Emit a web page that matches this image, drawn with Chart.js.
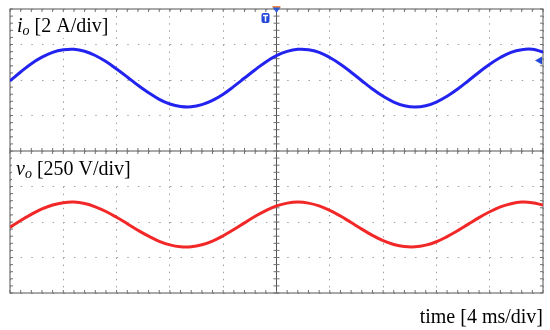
<!DOCTYPE html>
<html>
<head>
<meta charset="utf-8">
<script src="https://cdn.jsdelivr.net/npm/chart.js@4.4.0/dist/chart.umd.min.js"></script>
<style>
  html, body { margin: 0; padding: 0; background: #fff; }
</style>
</head>
<body>
<canvas id="scope" width="550" height="330"></canvas>
<script>
// sample times in ms (4 ms/div, 10 div across)
const timeMs = [0, 0.8, 1.6, 2.4, 3.2, 4.0, 4.8, 5.6, 6.4, 7.2, 8.0, 8.8, 9.6, 10.4, 11.2, 12.0, 12.8,
  13.6, 14.4, 15.2, 16.0, 16.8, 17.6, 18.4, 19.2, 20.0, 20.8, 21.6, 22.4, 23.2, 24.0, 24.8, 25.6,
  26.4, 27.2, 28.0, 28.8, 29.6, 30.4, 31.2, 32.0, 32.8, 33.6, 34.4, 35.2, 36.0, 36.8, 37.6, 38.4,
  39.2, 40.0];

// output current io [A] (2 A/div)
const currentA = [-0.05, 0.45, 0.92, 1.29, 1.56, 1.70, 1.73, 1.62, 1.38, 1.04, 0.62, 0.17, -0.30,
  -0.72, -1.09, -1.35, -1.49, -1.51, -1.39, -1.15, -0.80, -0.36, 0.11, 0.58, 1.02, 1.37, 1.61,
  1.73, 1.71, 1.56, 1.27, 0.89, 0.44, -0.04, -0.51, -0.92, -1.24, -1.45, -1.52, -1.45, -1.24,
  -0.92, -0.51, -0.04, 0.44, 0.89, 1.27, 1.56, 1.71, 1.73, 1.58];

// output voltage vo [V] (250 V/div)
const voltageV = [-38, 11, 54, 92, 120, 136, 140, 130, 107, 74, 33, -12, -58, -100, -136, -161,
  -174, -174, -160, -134, -97, -53, -6, 40, 80, 113, 133, 140, 133, 113, 82, 42, -4, -50, -94,
  -131, -158, -173, -175, -163, -139, -103, -61, -15, 31, 72, 106, 129, 140, 136, 119];

// axis ranges: top half is the current panel, bottom half the voltage panel
const timeRange = [0, 40];
const currentRange = [-12, 4];   // 2 A/div, panel spans +4..-4 A
const voltageRange = [-500, 1500]; // 250 V/div, panel spans +500..-500 V

const serif = '"Liberation Serif", "Times New Roman", serif';

function drawLabel(ctx, x, y, sym, sub, rest) {
  ctx.fillStyle = '#fff';
  ctx.font = 'italic 20px ' + serif;
  let w1 = ctx.measureText(sym).width;
  ctx.font = 'italic 14px ' + serif;
  let w2 = ctx.measureText(sub).width;
  ctx.font = '20px ' + serif;
  let w3 = ctx.measureText(' ' + rest).width;
  ctx.fillRect(x - 4, y - 19, w1 + w2 + w3 + 8, 25);
  ctx.fillStyle = '#000';
  ctx.font = 'italic 20px ' + serif;
  ctx.fillText(sym, x, y);
  ctx.font = 'italic 14px ' + serif;
  ctx.fillText(sub, x + w1, y + 3);
  ctx.font = '20px ' + serif;
  ctx.fillText(' ' + rest, x + w1 + w2, y);
}

const scopeFrame = {
  id: 'scopeFrame',
  beforeDatasetsDraw(chart) {
    const ctx = chart.ctx;
    const xs = chart.scales.x, yi = chart.scales.yi;
    const { left, right, top, bottom } = chart.chartArea;
    const xc = xs.getPixelForValue(20);
    const yc = yi.getPixelForValue(-4);
    ctx.save();
    ctx.strokeStyle = '#555';
    ctx.lineWidth = 1;
    ctx.strokeRect(left, top, right - left, bottom - top);
    ctx.beginPath();
    ctx.moveTo(xc, top); ctx.lineTo(xc, bottom);
    ctx.moveTo(left, yc); ctx.lineTo(right, yc);
    ctx.stroke();
    // minor ticks, 5 per division
    ctx.strokeStyle = '#707070';
    ctx.beginPath();
    for (let t = 0; t <= 40.001; t += 0.8) {
      const px = xs.getPixelForValue(t);
      ctx.moveTo(px, top); ctx.lineTo(px, top + 3);
      ctx.moveTo(px, bottom); ctx.lineTo(px, bottom - 3);
      ctx.moveTo(px, yc - 3); ctx.lineTo(px, yc + 3);
    }
    for (let v = -12; v <= 4.001; v += 0.4) {
      const py = yi.getPixelForValue(v);
      ctx.moveTo(left, py); ctx.lineTo(left + 3, py);
      ctx.moveTo(right, py); ctx.lineTo(right - 3, py);
      ctx.moveTo(xc - 3, py); ctx.lineTo(xc + 3, py);
    }
    ctx.stroke();
    ctx.restore();
  },
  afterDraw(chart) {
    const ctx = chart.ctx;
    const { left, right, top } = chart.chartArea;
    const xc = chart.scales.x.getPixelForValue(20);
    ctx.save();
    drawLabel(ctx, left + 7, top + 23, 'i', 'o', '[2 A/div]');
    drawLabel(ctx, left + 6, chart.scales.yv.getPixelForValue(500) + 24, 'v', 'o', '[250 V/div]');
    // trigger badge
    ctx.fillStyle = '#2347d6';
    ctx.beginPath();
    ctx.roundRect(xc - 15, top + 4, 8, 10, 2);
    ctx.fill();
    ctx.strokeStyle = '#fff';
    ctx.lineWidth = 1.5;
    ctx.beginPath();
    ctx.moveTo(xc - 13.5, top + 6.5); ctx.lineTo(xc - 8.5, top + 6.5);
    ctx.moveTo(xc - 11, top + 6.5); ctx.lineTo(xc - 11, top + 12.5);
    ctx.stroke();
    // trigger position arrow on top edge
    ctx.fillStyle = '#2a5bd8';
    ctx.beginPath();
    ctx.moveTo(xc - 4, top - 2); ctx.lineTo(xc + 4, top - 2); ctx.lineTo(xc, top + 4);
    ctx.closePath(); ctx.fill();
    ctx.fillStyle = '#f08a4a';
    ctx.fillRect(xc - 4, top - 3, 8, 1.5);
    // trigger level arrow on right edge
    ctx.fillStyle = '#2347d6';
    const ly = chart.scales.yi.getPixelForValue(1.1);
    ctx.beginPath();
    ctx.moveTo(right - 1, ly - 4); ctx.lineTo(right - 1, ly + 4); ctx.lineTo(right - 8, ly);
    ctx.closePath(); ctx.fill();
    ctx.restore();
  }
};

const ctx = document.getElementById('scope');
new Chart(ctx, {
  type: 'line',
  data: {
    datasets: [
      {
        label: 'io',
        data: timeMs.map((t, i) => ({ x: t, y: currentA[i] })),
        yAxisID: 'yi',
        borderColor: 'rgb(35,35,240)',
        borderWidth: 3,
        pointRadius: 0,
        tension: 0.4
      },
      {
        label: 'vo',
        data: timeMs.map((t, i) => ({ x: t, y: voltageV[i] })),
        yAxisID: 'yv',
        borderColor: 'rgb(242,40,40)',
        borderWidth: 3,
        pointRadius: 0,
        tension: 0.4
      }
    ]
  },
  options: {
    responsive: false,
    animation: false,
    layout: { padding: { left: 10, right: 7, top: 9, bottom: 0 } },
    plugins: {
      legend: { display: false },
      tooltip: { enabled: false },
      title: {
        display: true,
        text: 'time [4 ms/div]',
        position: 'bottom',
        align: 'end',
        color: '#000',
        font: { family: serif, size: 20, weight: 'normal' },
        padding: { top: 13, bottom: 0 }
      }
    },
    scales: {
      x: {
        type: 'linear',
        min: timeRange[0],
        max: timeRange[1],
        ticks: { stepSize: 4, display: false },
        grid: { color: '#a0a0a0', drawTicks: false },
        border: { display: false, dash: [1.5, 5.6] },
        afterFit(s) { s.height = 0; }
      },
      yi: {
        position: 'left',
        min: currentRange[0],
        max: currentRange[1],
        ticks: { stepSize: 2, display: false },
        grid: { color: '#a0a0a0', drawTicks: false },
        border: { display: false, dash: [1.5, 9.16] },
        afterFit(s) { s.width = 0; }
      },
      yv: {
        position: 'right',
        display: false,
        min: voltageRange[0],
        max: voltageRange[1]
      }
    }
  },
  plugins: [scopeFrame]
});
</script>
</body>
</html>
